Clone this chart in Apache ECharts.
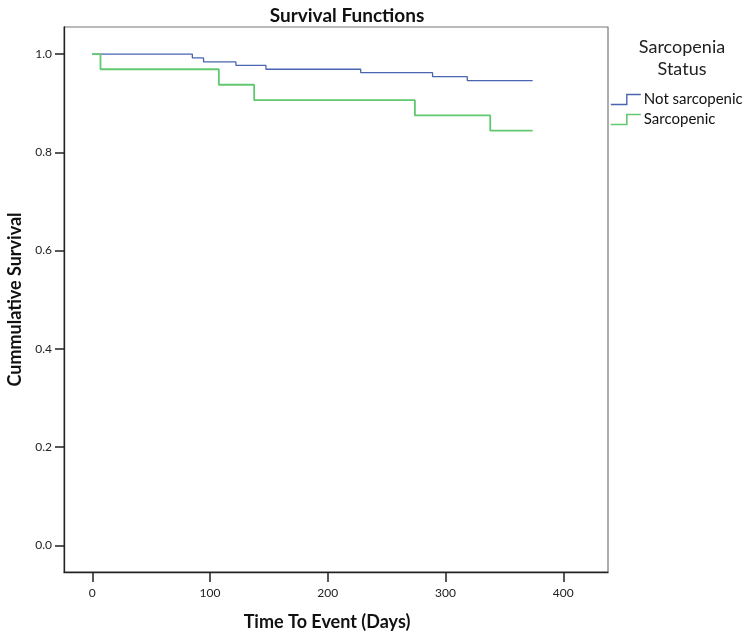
<!DOCTYPE html>
<html>
<head>
<meta charset="utf-8">
<script src="https://cdn.jsdelivr.net/npm/echarts@6/dist/echarts.min.js"></script>
<style>html,body{margin:0;padding:0;background:#fff}#c{width:750px;height:634px}</style>
</head>
<body>
<div id="c"></div>
<script>
// Kaplan-Meier step data
const notSarcDays = [0, 85, 94.5, 122, 147.5, 228, 289, 318.5, 374];
const notSarcSurv = [1.0, 0.992, 0.984, 0.977, 0.969, 0.962, 0.954, 0.946, 0.946];
const sarcDays = [0, 7, 107.5, 137.5, 274, 338, 374];
const sarcSurv = [1.0, 0.969, 0.9375, 0.906, 0.875, 0.844, 0.844];
const xTicks = [0, 100, 200, 300, 400];
const yTicks = [0, 0.2, 0.4, 0.6, 0.8, 1.0];
const seriesNames = ['Not sarcopenic', 'Sarcopenic'];

const BLUE = '#4a64b0', GREEN = '#62c870';
const FONT = 'Lato, "Open Sans", sans-serif';
const zip = (a, b) => a.map((v, i) => [v, b[i]]);
const stepIcon = 'path://M0,10 L16,10 L16,0 L30,0';

const chart = echarts.init(document.getElementById('c'), null, {renderer: 'canvas'});
chart.setOption({
  animation: false,
  backgroundColor: '#fff',
  title: [
    {text: 'Survival Functions', left: 342, top: 1, textAlign: 'center',
     textStyle: {fontFamily: FONT, fontSize: 19, fontWeight: 'bold', color: '#111'}},
    {text: 'Sarcopenia\nStatus', left: 677, top: 31, textAlign: 'center',
     textStyle: {fontFamily: FONT, fontSize: 18, fontWeight: 'normal', color: '#222', lineHeight: 22}}
  ],
  legend: {
    orient: 'vertical', left: 605, top: 87, itemWidth: 30, itemHeight: 10, itemGap: 5,
    icon: stepIcon,
    textStyle: {fontFamily: FONT, fontSize: 15, color: '#111', padding: [0, 0, 0, -2]},
    data: [
      {name: seriesNames[0], itemStyle: {color: 'transparent', borderColor: BLUE, borderWidth: 1.4}},
      {name: seriesNames[1], itemStyle: {color: 'transparent', borderColor: GREEN, borderWidth: 1.6}}
    ]
  },
  grid: {left: 64, top: 27, right: 142, bottom: 62, show: true, borderColor: '#777', borderWidth: 1.2,
         outerBoundsMode: 'none', containLabel: false},
  xAxis: {
    type: 'value', min: -24, max: 438,
    name: 'Time To Event (Days)', nameLocation: 'middle', nameGap: 41,
    nameTextStyle: {fontFamily: FONT, fontSize: 18, fontWeight: 'bold', color: '#111', padding: [0, 18, 0, 0]},
    axisLine: {show: true, onZero: false, lineStyle: {color: '#222', width: 1.3}},
    axisTick: {show: true, length: 10, customValues: xTicks, lineStyle: {color: '#222', width: 1.5}},
    axisLabel: {customValues: xTicks, margin: 15, fontFamily: FONT, fontSize: 12, color: '#222'},
    splitLine: {show: false}
  },
  yAxis: {
    type: 'value', min: -0.054, max: 1.055,
    name: 'Cummulative Survival', nameLocation: 'middle', nameGap: 40,
    nameTextStyle: {fontFamily: FONT, fontSize: 18, fontWeight: 'bold', color: '#111'},
    axisLine: {show: true, onZero: false, lineStyle: {color: '#222', width: 1.3}},
    axisTick: {show: true, length: 9, customValues: yTicks, lineStyle: {color: '#222', width: 1.5}},
    axisLabel: {customValues: yTicks, margin: 12, fontFamily: FONT, fontSize: 12, color: '#222',
                formatter: v => v.toFixed(1)},
    splitLine: {show: false}
  },
  series: [
    {name: seriesNames[0], type: 'line', step: 'end', symbol: 'none', z: 2,
     data: zip(notSarcDays, notSarcSurv), itemStyle: {color: BLUE}, lineStyle: {color: BLUE, width: 1.3}},
    {name: seriesNames[1], type: 'line', step: 'end', symbol: 'none', z: 3,
     data: zip(sarcDays, sarcSurv), itemStyle: {color: GREEN}, lineStyle: {color: GREEN, width: 1.8}}
  ]
});
</script>
</body>
</html>
